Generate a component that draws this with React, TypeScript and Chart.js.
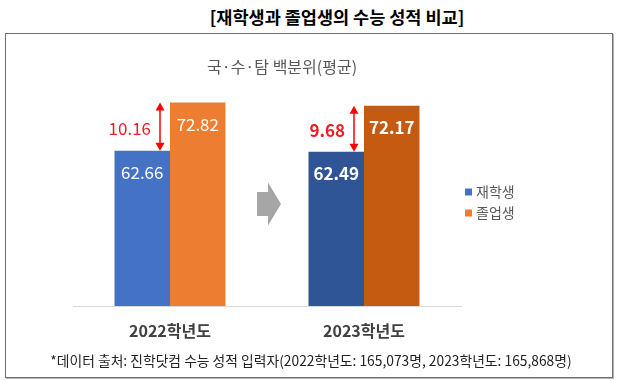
import React, { useEffect, useRef } from 'react';
import { Chart, registerables } from 'chart.js';

Chart.register(...registerables);

const categories = ['2022학년도', '2023학년도'];
const seriesNames = ['재학생', '졸업생'];
const currentStudents = [62.66, 62.49];
const graduates = [72.82, 72.17];
const yMin = 30;
const yMax = 78;

const currentColors = ['#4472C4', '#2F5597'];
const graduateColors = ['#ED7D31', '#C55A11'];

const FONT = '"Noto Sans CJK KR", "Noto Sans", sans-serif';

const annotations = {
  id: 'annotations',
  afterDatasetsDraw(chart: any) {
    const ctx = chart.ctx;
    const m0 = chart.getDatasetMeta(0);
    const m1 = chart.getDatasetMeta(1);
    const d0 = chart.data.datasets[0].data as number[];
    const d1 = chart.data.datasets[1].data as number[];
    ctx.save();
    categories.forEach((_, i) => {
      const bold = i === 1;
      const b0 = m0.data[i];
      const b1 = m1.data[i];
      ctx.font = `${bold ? 'bold ' : ''}17px ${FONT}`;
      ctx.fillStyle = '#FFFFFF';
      ctx.textAlign = 'center';
      ctx.textBaseline = 'middle';
      ctx.fillText(d0[i].toFixed(2), b0.x, b0.y + 22);
      ctx.fillText(d1[i].toFixed(2), b1.x, b1.y + 22);

      // red double arrow showing the gap
      const ax = b0.x + b0.width / 2 - 10;
      const top = b1.y;
      const bot = b0.y;
      ctx.strokeStyle = '#FF0000';
      ctx.fillStyle = '#FF0000';
      ctx.lineWidth = 1.5;
      ctx.beginPath();
      ctx.moveTo(ax, top + 6);
      ctx.lineTo(ax, bot - 6);
      ctx.stroke();
      ctx.beginPath();
      ctx.moveTo(ax, top);
      ctx.lineTo(ax - 4.5, top + 8);
      ctx.lineTo(ax + 4.5, top + 8);
      ctx.closePath();
      ctx.fill();
      ctx.beginPath();
      ctx.moveTo(ax, bot);
      ctx.lineTo(ax - 4.5, bot - 8);
      ctx.lineTo(ax + 4.5, bot - 8);
      ctx.closePath();
      ctx.fill();

      ctx.fillStyle = '#EE1C25';
      ctx.textAlign = 'right';
      ctx.fillText((d1[i] - d0[i]).toFixed(2), ax - 9, (top + bot) / 2 + 2);
    });

    // gray block arrow between the two years
    const xs = chart.scales.x;
    const area = chart.chartArea;
    const cx = (xs.getPixelForValue(0) + xs.getPixelForValue(1)) / 2;
    const cy = area.top + (area.bottom - area.top) * 0.553;
    ctx.fillStyle = '#A6A6A6';
    ctx.beginPath();
    ctx.moveTo(cx - 10, cy - 12);
    ctx.lineTo(cx + 1, cy - 12);
    ctx.lineTo(cx + 1, cy - 21.5);
    ctx.lineTo(cx + 14, cy);
    ctx.lineTo(cx + 1, cy + 21.5);
    ctx.lineTo(cx + 1, cy + 12);
    ctx.lineTo(cx - 10, cy + 12);
    ctx.closePath();
    ctx.fill();
    ctx.restore();
  },
  afterDraw(chart: any) {
    const ctx = chart.ctx;
    const area = chart.chartArea;
    const x0 = area.right + 4;
    const yMid = (area.top + area.bottom) / 2;
    ctx.save();
    ctx.font = `14px ${FONT}`;
    ctx.textAlign = 'left';
    ctx.textBaseline = 'middle';
    chart.data.datasets.forEach((ds: any, i: number) => {
      const y = yMid + i * 21;
      const col = Array.isArray(ds.backgroundColor) ? ds.backgroundColor[0] : ds.backgroundColor;
      ctx.fillStyle = col;
      ctx.fillRect(x0, y - 3.5, 7, 7);
      ctx.fillStyle = '#595959';
      ctx.fillText(ds.label, x0 + 11, y);
    });
    ctx.restore();
  },
};

export default function App() {
  const ref = useRef<HTMLCanvasElement>(null);

  useEffect(() => {
    if (!ref.current) return;
    const chart = new Chart(ref.current, {
      type: 'bar',
      data: {
        labels: categories,
        datasets: [
          {
            label: seriesNames[0],
            data: currentStudents,
            backgroundColor: currentColors,
            borderWidth: 0,
            barPercentage: 1,
            categoryPercentage: 0.572,
          },
          {
            label: seriesNames[1],
            data: graduates,
            backgroundColor: graduateColors,
            borderWidth: 0,
            barPercentage: 1,
            categoryPercentage: 0.572,
          },
        ],
      },
      options: {
        animation: false,
        responsive: false,
        layout: { padding: { left: 73, right: 158, top: 78, bottom: 0 } },
        plugins: {
          legend: { display: false },
          tooltip: { enabled: false },
          title: { display: false },
        },
        scales: {
          y: {
            display: false,
            min: yMin,
            max: yMax,
          },
          x: {
            grid: { display: false, drawTicks: false },
            border: { display: true, color: '#D9D9D9', width: 1 },
            ticks: {
              color: '#404040',
              font: { family: FONT, size: 16, weight: 'bold' },
              padding: 15,
            },
            afterFit(scale: any) {
              scale.height = 75;
            },
          },
        },
      },
      plugins: [annotations],
    });
    return () => chart.destroy();
  }, []);

  return (
    <div
      style={{
        position: 'fixed',
        left: 0,
        top: 0,
        width: 619,
        height: 381,
        background: '#FFFFFF',
        fontFamily: FONT,
        overflow: 'hidden',
      }}
    >
      <div
        style={{
          position: 'absolute',
          left: 137,
          top: 5,
          width: 400,
          textAlign: 'center',
          fontSize: 17.5,
          fontWeight: 'bold',
          color: '#000000',
          lineHeight: '24px',
        }}
      >
        [재학생과 졸업생의 수능 성적 비교]
      </div>
      <div
        style={{
          position: 'absolute',
          left: 5,
          top: 33,
          width: 606,
          height: 343,
          border: '1px solid #6F6F6F',
          boxShadow: '1px 1px 0 #B5B5B5',
        }}
      />
      <canvas
        ref={ref}
        width={619}
        height={381}
        style={{ position: 'absolute', left: 0, top: 0, width: 619, height: 381 }}
      />
      <div
        style={{
          position: 'absolute',
          left: 132,
          top: 54,
          width: 300,
          textAlign: 'center',
          fontSize: 16,
          color: '#595959',
          lineHeight: '24px',
        }}
      >
        국·수·탐 백분위(평균)
      </div>
      <div
        style={{
          position: 'absolute',
          left: 11,
          top: 350,
          width: 600,
          textAlign: 'center',
          fontSize: 13.8,
          color: '#222222',
          lineHeight: '20px',
          whiteSpace: 'nowrap',
        }}
      >
        *데이터 출처: 진학닷컴 수능 성적 입력자(2022학년도: 165,073명, 2023학년도: 165,868명)
      </div>
    </div>
  );
}
